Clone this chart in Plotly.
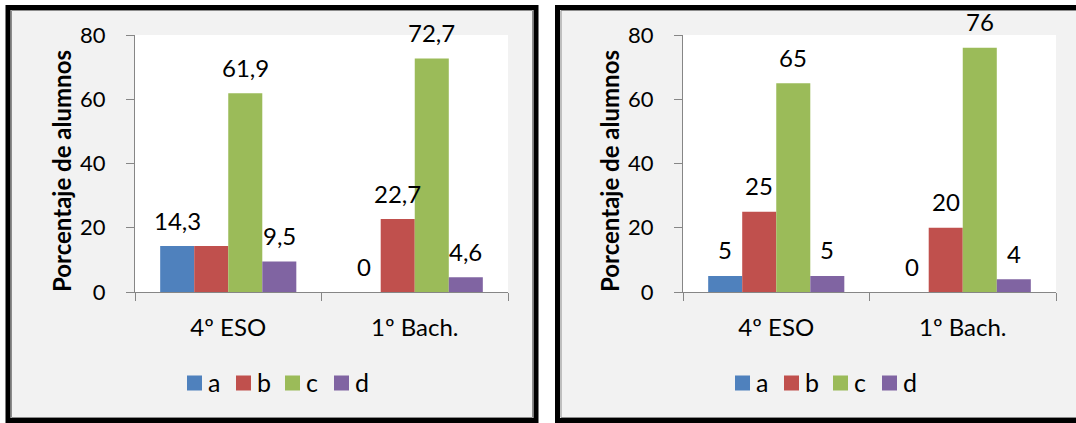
import plotly.graph_objects as go

# ---------------- data ----------------
categories = ["4º ESO", "1º Bach."]
series_names = ["a", "b", "c", "d"]
series_colors = ["#4F81BD", "#C0504D", "#9BBB59", "#8064A2"]

left_a = [14.3, 0]
left_b = [14.3, 22.7]
left_c = [61.9, 72.7]
left_d = [9.5, 4.6]

right_a = [5, 0]
right_b = [25, 20]
right_c = [65, 76]
right_d = [5, 4]

# labels hidden in the original (overlapping label in Excel)
left_hidden = [(1, 0)]   # (series index, category index)
right_hidden = []

y_ticks = [0, 20, 40, 60, 80]
y_title = "Porcentaje de alumnos"

# ---------------- layout constants ----------------
W, H = 1076, 423
FONT = "Lato"
BARGAP = 0.27
px = lambda v: v / W
py = lambda v: 1 - v / H

left_dom = [px(135), px(508)]
right_dom = [px(683), px(1056)]
y_dom = [py(292), py(35)]

fig = go.Figure()

panels = [
    ("x", "y", [left_a, left_b, left_c, left_d], left_hidden, left_dom, 187, 61),
    ("x2", "y2", [right_a, right_b, right_c, right_d], right_hidden, right_dom, 735, 609),
]

annotations = []
shapes = []

# panel backgrounds / borders
for x0, x1 in ((8, 536), (557.5, 1085)):
    shapes.append(dict(type="rect", xref="paper", yref="paper", layer="below",
                       x0=px(x0), x1=px(x1), y0=py(420.5), y1=py(7.5),
                       fillcolor="#F2F2F2", line=dict(color="black", width=5)))
    shapes.append(dict(type="rect", xref="paper", yref="paper", layer="below",
                       x0=px(x0 + 3.5), x1=px(x1 - 3.5), y0=py(417.5), y1=py(10.5),
                       fillcolor="rgba(0,0,0,0)", line=dict(color="#8c8c8c", width=1)))
# plot areas (white)
for dom in (left_dom, right_dom):
    shapes.append(dict(type="rect", xref="paper", yref="paper", layer="below",
                       x0=dom[0], x1=dom[1], y0=y_dom[0], y1=y_dom[1],
                       fillcolor="white", line=dict(width=0)))

LEG_SQ = 15
LEG_STEP = 49
LEG_Y = 383

for xa, ya, series, hidden, dom, leg_x, title_x in panels:
    cat_w = (dom[1] - dom[0]) * W / len(categories)
    bw = cat_w * (1 - BARGAP) / len(series_names)
    for i, (name, vals) in enumerate(zip(series_names, series)):
        fig.add_trace(go.Bar(
            x=categories, y=vals, name=name, xaxis=xa, yaxis=ya,
            marker=dict(color=series_colors[i], line=dict(width=0)),
            hoverinfo="skip", showlegend=False,
        ))
        for j, v in enumerate(vals):
            if (i, j) in hidden:
                continue
            annotations.append(dict(
                xref=xa, yref=ya, x=categories[j], y=v,
                text=f"{v:g}".replace(".", ","), showarrow=False,
                xshift=(i - (len(series_names) - 1) / 2) * bw, yshift=26,
                yanchor="middle", xanchor="center",
                font=dict(family=FONT, size=24, color="black"),
            ))
        # legend entry (key square + name)
        sx = leg_x + i * LEG_STEP
        shapes.append(dict(type="rect", xref="paper", yref="paper",
                           x0=px(sx), x1=px(sx + LEG_SQ),
                           y0=py(LEG_Y + LEG_SQ / 2), y1=py(LEG_Y - LEG_SQ / 2),
                           fillcolor=series_colors[i], line=dict(width=0)))
        annotations.append(dict(
            xref="paper", yref="paper", x=px(sx + LEG_SQ + 4), y=py(LEG_Y - 1),
            text=name, showarrow=False, xanchor="left", yanchor="middle",
            font=dict(family=FONT, size=25, color="black"),
        ))
    # axis title
    annotations.append(dict(
        xref="paper", yref="paper", x=px(title_x), y=py(171), text=f"<b>{y_title}</b>",
        textangle=-90, showarrow=False, xanchor="center", yanchor="middle",
        font=dict(family=FONT, size=24, color="black"),
    ))

axis_common_x = dict(
    type="category", showgrid=False, zeroline=False, showline=True,
    linecolor="#868686", linewidth=1.3, ticks="outside", tickson="boundaries",
    ticklen=8, tickcolor="#868686", tickwidth=1.3, ticklabelstandoff=14,
    tickfont=dict(family=FONT, size=24, color="black"), fixedrange=True,
    automargin=False,
)
axis_common_y = dict(
    range=[0, 80], tickvals=y_ticks, showgrid=False, zeroline=False, showline=True,
    linecolor="#868686", linewidth=1.3, ticks="outside", ticklen=8,
    tickcolor="#868686", tickwidth=1.3, ticklabelstandoff=16,
    tickfont=dict(family=FONT, size=22, color="black"), fixedrange=True,
    domain=y_dom, automargin=False,
)

fig.update_layout(
    width=W, height=H, margin=dict(l=0, r=0, t=0, b=0, pad=0, autoexpand=False),
    paper_bgcolor="white", plot_bgcolor="rgba(0,0,0,0)",
    barmode="group", bargap=BARGAP, bargroupgap=0,
    showlegend=False,
    xaxis=dict(axis_common_x, domain=left_dom, anchor="y"),
    yaxis=dict(axis_common_y, anchor="x"),
    xaxis2=dict(axis_common_x, domain=right_dom, anchor="y2"),
    yaxis2=dict(axis_common_y, anchor="x2"),
    shapes=shapes, annotations=annotations,
    font=dict(family=FONT),
)

fig.write_html("out.html", config={"displayModeBar": False})
